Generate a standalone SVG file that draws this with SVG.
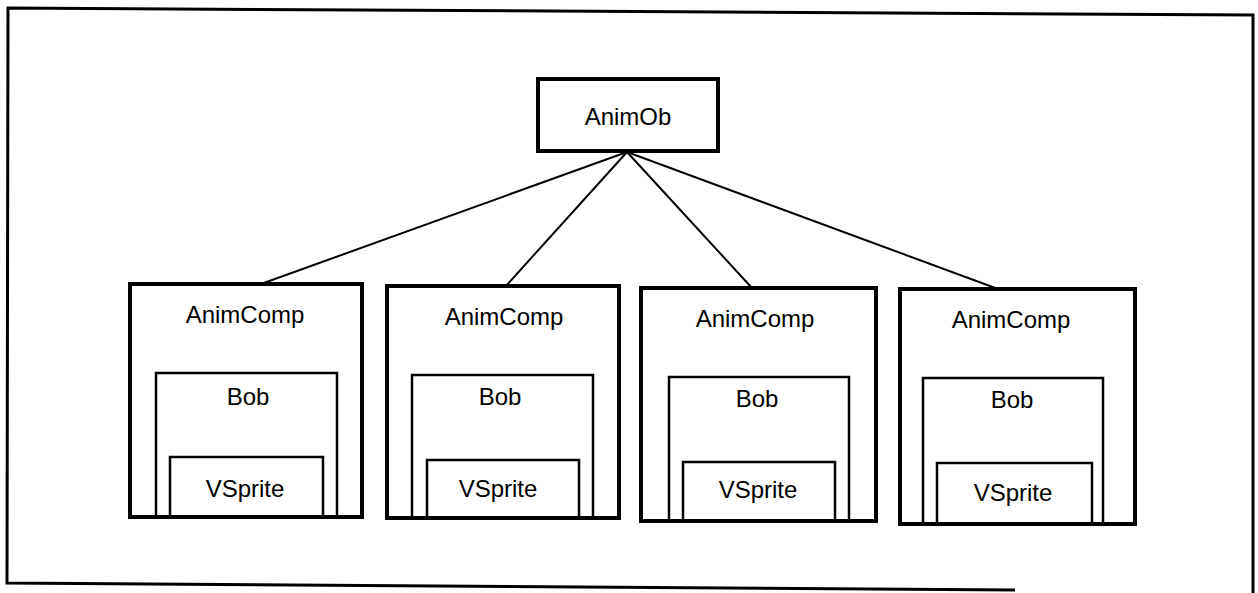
<svg xmlns="http://www.w3.org/2000/svg" width="1258" height="593" viewBox="0 0 1258 593">
<style>
.frame{fill:none;stroke:#000;stroke-width:3}
.outer{fill:#fff;stroke:#000;stroke-width:4}
.inner{fill:#fff;stroke:#000;stroke-width:2.5}
.conn{fill:none;stroke:#000;stroke-width:2}
text{font-family:"Liberation Sans",Arial,sans-serif;font-size:24px;fill:#000;text-anchor:middle}
</style>
<rect width="1258" height="593" fill="#fff"/>
<path class="frame" d="M1015,590 L7,583 L8,8 L1253,15 L1253,593"/>
<g id="connectors">
<line class="conn" x1="627" y1="152" x2="261" y2="284"/>
<line class="conn" x1="627" y1="152" x2="505" y2="287"/>
<line class="conn" x1="627" y1="152" x2="752" y2="288"/>
<line class="conn" x1="627" y1="152" x2="998" y2="289"/>
</g>
<g id="animob">
<rect class="outer" x="538" y="79" width="180" height="72"/>
<text x="628" y="125">AnimOb</text>
</g>
<g id="animcomp1">
<rect class="outer" x="130" y="284" width="232" height="233"/>
<text x="245" y="323">AnimComp</text>
<g id="bob1">
<rect class="inner" x="156" y="373" width="181" height="144"/>
<text x="248" y="405">Bob</text>
</g>
<g id="vsprite1">
<rect class="inner" x="170" y="457" width="153" height="60"/>
<text x="245" y="497">VSprite</text>
</g>
<line class="outer" x1="128" y1="517" x2="364" y2="517"/>
</g>
<g id="animcomp2">
<rect class="outer" x="387" y="286" width="232" height="232"/>
<text x="504" y="325">AnimComp</text>
<g id="bob2">
<rect class="inner" x="412" y="375" width="181" height="143"/>
<text x="500" y="405">Bob</text>
</g>
<g id="vsprite2">
<rect class="inner" x="427" y="460" width="152" height="58"/>
<text x="498" y="497">VSprite</text>
</g>
<line class="outer" x1="385" y1="518" x2="621" y2="518"/>
</g>
<g id="animcomp3">
<rect class="outer" x="641" y="288" width="235" height="233"/>
<text x="755" y="327">AnimComp</text>
<g id="bob3">
<rect class="inner" x="669" y="377" width="180" height="144"/>
<text x="757" y="407">Bob</text>
</g>
<g id="vsprite3">
<rect class="inner" x="683" y="462" width="152" height="59"/>
<text x="758" y="498">VSprite</text>
</g>
<line class="outer" x1="639" y1="521" x2="878" y2="521"/>
</g>
<g id="animcomp4">
<rect class="outer" x="900" y="289" width="235" height="235"/>
<text x="1011" y="328">AnimComp</text>
<g id="bob4">
<rect class="inner" x="923" y="378" width="180" height="146"/>
<text x="1012" y="408">Bob</text>
</g>
<g id="vsprite4">
<rect class="inner" x="937" y="463" width="155" height="61"/>
<text x="1013" y="501">VSprite</text>
</g>
<line class="outer" x1="898" y1="524" x2="1137" y2="524"/>
</g>
</svg>
